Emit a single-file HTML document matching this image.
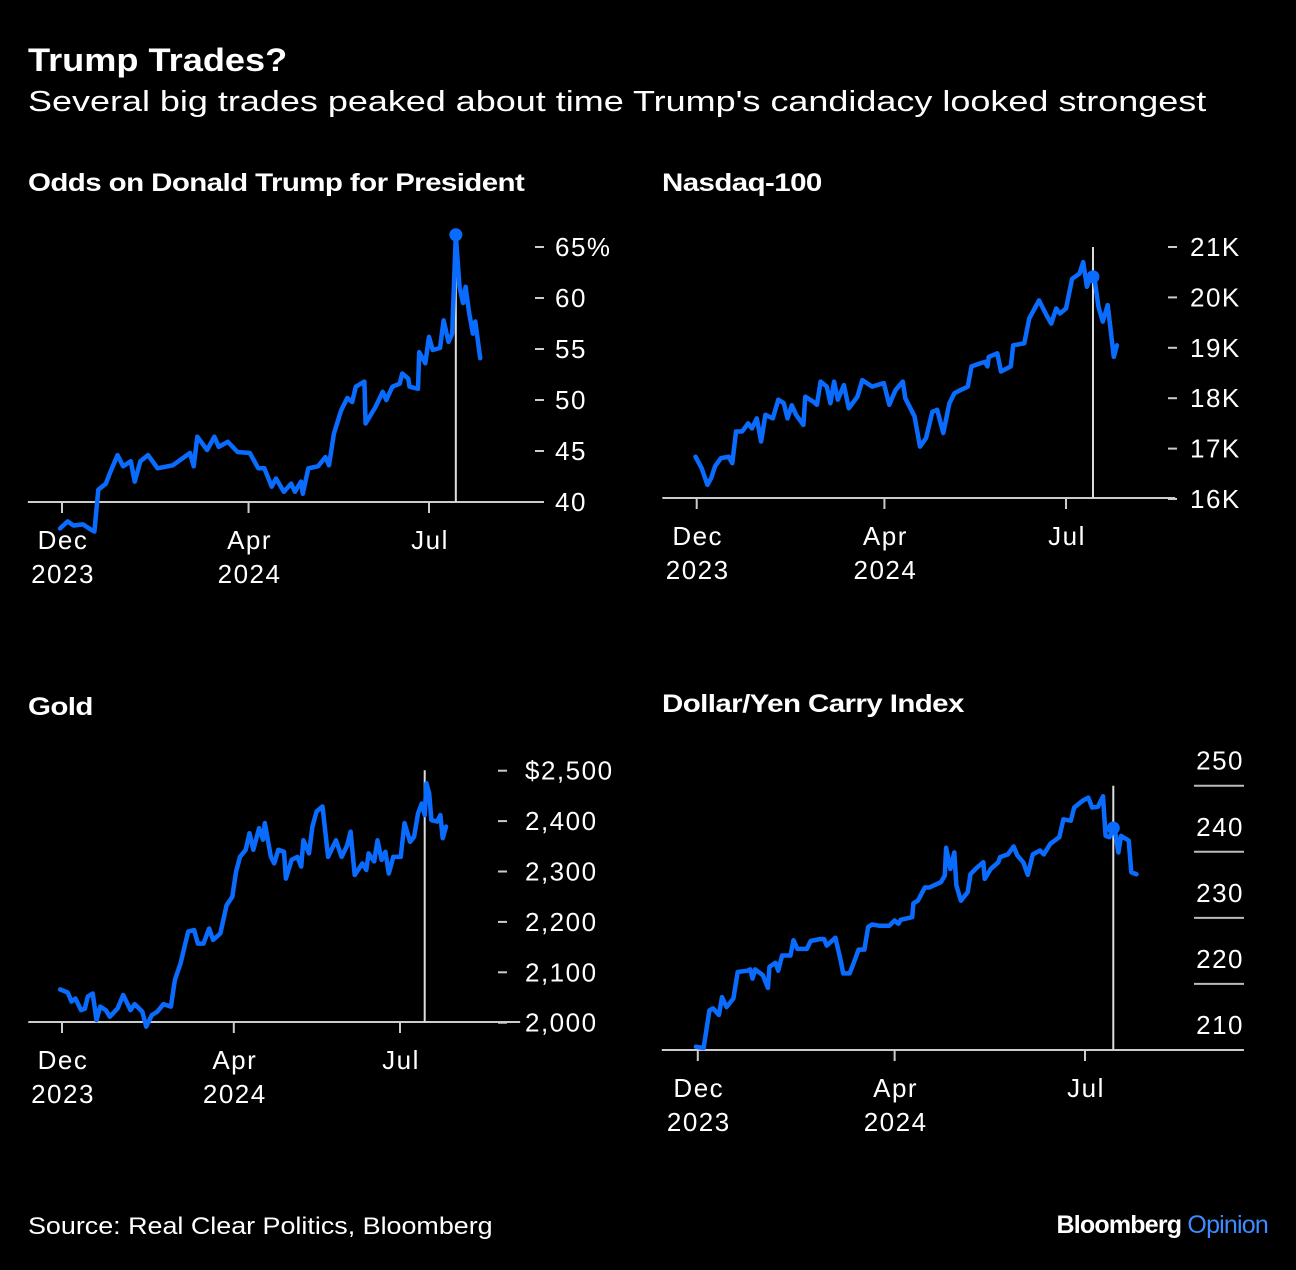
<!DOCTYPE html>
<html><head><meta charset="utf-8">
<style>
html,body{margin:0;padding:0;background:#000;}
body{width:1296px;height:1270px;overflow:hidden;font-family:"Liberation Sans",sans-serif;color:#fff;position:relative;}
.t{position:absolute;white-space:nowrap;transform-origin:left top;}
svg{position:absolute;left:0;top:0;}
svg text{font-family:"Liberation Sans",sans-serif;fill:#fff;letter-spacing:1.5px;}
</style></head>
<body>
<div class="t" style="left:28px;top:42px;font-size:32px;font-weight:bold;transform:scaleX(1.13);">Trump Trades?</div>
<div class="t" style="left:28px;top:86px;font-size:29px;transform:scaleX(1.24);">Several big trades peaked about time Trump's candidacy looked strongest</div>
<div class="t" style="left:28px;top:169px;font-size:25px;font-weight:bold;letter-spacing:-0.5px;transform:scaleX(1.18);">Odds on Donald Trump for President</div>
<div class="t" style="left:662px;top:169px;font-size:25px;font-weight:bold;letter-spacing:-0.5px;transform:scaleX(1.18);">Nasdaq-100</div>
<div class="t" style="left:28px;top:693px;font-size:25px;font-weight:bold;letter-spacing:-0.5px;transform:scaleX(1.18);">Gold</div>
<div class="t" style="left:662px;top:690px;font-size:25px;font-weight:bold;letter-spacing:-0.5px;transform:scaleX(1.18);">Dollar/Yen Carry Index</div>
<div class="t" style="left:28px;top:1213px;font-size:24px;transform:scaleX(1.12);">Source: Real Clear Politics, Bloomberg</div>
<div class="t" style="right:28px;top:1211px;font-size:25px;font-weight:bold;letter-spacing:-0.8px;">Bloomberg <span style="color:#3d8bff;font-weight:normal;">Opinion</span></div>
<svg id="chart" width="1296" height="1270"></svg>
<script>
// x values are weeks from Dec 1, 2023
const tickWeeks = [0, 15.3, 30.1];
const tickMonths = ["Dec", "Apr", "Jul"];
const tickYears = ["2023", "2024", ""];
const markerWeek = 32.3;

const oddsWeeks = [-0.16,0.47,0.94,1.72,2.35,2.66,2.98,3.6,3.92,4.55,5.02,5.64,5.96,6.43,7.05,7.84,9.09,10.5,10.8,11.1,11.9,12.5,12.85,13.6,14.4,15.4,16.1,16.6,17.2,17.55,18.2,18.8,19.1,19.6,19.75,20.2,21.0,21.6,21.9,22.3,22.9,23.4,23.8,24.1,24.8,24.9,25.7,26.3,26.6,27.1,27.7,27.9,28.4,28.5,29.2,29.3,29.8,30.1,30.4,31.0,31.3,31.7,32.0,32.3,32.6,32.9,33.1,33.4,33.7,33.9,34.3];
const oddsValues = [37.4,38.1,37.7,37.8,37.3,37.1,41.2,41.8,42.8,44.6,43.5,44.0,42.0,44.0,44.6,43.3,43.6,44.8,43.5,46.4,45.1,46.4,45.4,45.9,44.9,44.8,43.3,43.3,41.5,42.3,41.0,41.8,41.0,42.0,40.8,43.3,43.5,44.4,43.6,46.7,49.0,50.2,49.8,51.3,51.8,47.7,49.3,50.8,50.0,51.3,51.6,52.6,52.1,51.3,51.1,54.7,53.6,56.2,54.9,55.1,57.8,55.7,56.5,66.2,61.1,59.5,61.1,58.5,56.5,57.7,54.1];
const oddsTicks = [40,45,50,55,60,65];
const oddsTickLabels = ["40","45","50","55","60","65%"];

const ndxWeeks = [-0.1,0.41,0.875,1.19,1.5,1.97,2.6,2.9,3.2,3.7,4.2,4.5,4.9,5.25,5.6,6.2,6.65,7.1,7.4,7.75,8.1,8.7,8.85,9.5,9.8,10.1,10.6,10.9,11.2,11.5,12.0,12.4,13.1,13.5,14.3,15.25,15.7,16.2,16.8,17.0,17.75,18.2,18.7,19.2,19.6,20.1,20.6,21.0,21.5,22.1,22.4,23.1,23.5,23.7,23.8,24.5,24.8,25.6,25.8,26.7,27.1,27.9,28.5,28.9,29.3,29.6,30.1,30.6,31.2,31.5,31.8,32.1,32.4,32.75,33.1,33.5,34.0,34.25];
const ndxValues = [16.84,16.61,16.28,16.42,16.65,16.81,16.84,16.71,17.34,17.34,17.5,17.4,17.6,17.14,17.67,17.6,17.97,17.9,17.6,17.86,17.67,17.47,18.03,17.93,17.87,18.33,18.23,17.9,18.33,17.97,18.26,17.8,18.03,18.36,18.23,18.3,17.87,18.16,18.33,18.0,17.64,17.04,17.21,17.73,17.77,17.31,17.9,18.1,18.16,18.23,18.63,18.69,18.72,18.63,18.82,18.89,18.53,18.63,19.05,19.09,19.58,19.94,19.65,19.48,19.78,19.68,19.78,20.37,20.47,20.7,20.21,20.41,20.41,19.81,19.52,19.85,18.82,19.05];
const ndxTicks = [16,17,18,19,20,21];
const ndxTickLabels = ["16K","17K","18K","19K","20K","21K"];

const goldWeeks = [-0.17,0.51,0.85,1.19,1.7,2.04,2.3,2.73,3.07,3.4,3.9,4.26,4.94,5.45,6.1,6.47,7.15,7.5,8.0,8.5,9.03,9.7,10.05,10.56,11.24,11.76,12.1,12.6,13.1,13.46,14.1,14.66,15.17,15.5,15.85,16.36,16.7,17.04,17.55,17.9,18.06,18.6,18.9,19.26,19.77,19.94,20.45,20.96,21.3,21.5,22.0,22.3,22.67,23.2,23.7,24.4,24.9,25.4,25.7,26.07,26.75,27.1,27.3,27.8,28.1,28.46,28.8,29.1,29.5,30.16,30.5,31.0,31.36,31.7,32.03,32.3,32.45,32.7,32.9,33.4,33.7,33.9,34.2];
const goldValues = [2066,2060,2042,2048,2025,2028,2052,2058,2005,2032,2025,2012,2028,2055,2025,2037,2022,1992,2015,2022,2037,2032,2085,2118,2181,2184,2157,2157,2187,2164,2177,2233,2250,2300,2329,2343,2376,2343,2386,2363,2396,2329,2316,2343,2339,2286,2323,2329,2310,2362,2336,2389,2419,2429,2329,2362,2329,2352,2379,2293,2316,2303,2336,2320,2362,2323,2339,2296,2329,2329,2396,2359,2369,2415,2435,2412,2475,2455,2402,2399,2412,2366,2389];
const goldTicks = [2000,2100,2200,2300,2400,2500];
const goldTickLabels = ["2,000","2,100","2,200","2,300","2,400","$2,500"];

const carryWeeks = [-0.15,0.45,0.9,1.19,1.64,1.88,2.23,2.77,3.1,3.87,4.08,4.25,4.46,5.06,5.45,5.57,6.04,6.25,6.55,7.2,7.44,7.74,8.48,8.78,9.52,9.82,10.03,10.7,11.1,11.3,11.8,12.05,12.5,12.95,13.24,13.54,14.14,14.88,15.3,15.6,15.77,16.67,16.76,17.11,17.65,18.0,18.9,19.2,19.3,19.64,19.94,20.1,20.45,20.98,21.2,21.7,22.2,22.3,22.77,23.36,23.5,24.1,24.55,24.85,25.3,25.65,26.04,26.6,26.9,27.4,28.1,28.42,29.0,29.26,29.9,30.36,30.65,31.1,31.5,31.7,32.0,32.4,32.7,32.9,33.5,33.7,34.1];
const carryValues = [210.5,210.3,216.0,216.3,215.3,218.0,216.5,217.8,221.8,222.0,222.2,220.8,222.2,221.3,219.4,222.6,223.2,222.0,224.3,224.3,226.6,225.3,225.3,226.5,226.8,226.8,225.8,227.0,223.6,221.6,221.6,222.8,225.2,225.2,228.6,229.0,228.8,228.8,229.6,229.1,229.7,230.1,232.2,232.6,234.6,234.6,235.4,236.4,240.6,237.4,239.9,234.9,232.6,233.9,236.6,237.6,238.4,235.9,237.4,238.4,239.2,239.6,240.8,239.4,238.4,236.5,239.6,240.2,239.6,241.2,242.2,244.9,244.7,246.7,247.7,248.2,246.7,246.8,248.4,242.4,242.2,243.6,239.9,242.4,241.7,236.9,236.6];
const carryTicks = [210,220,230,240,250];
const carryTickLabels = ["210","220","230","240","250"];

const NS = "http://www.w3.org/2000/svg";
const svg = document.getElementById("chart");
function mk(tag, attrs){ const e=document.createElementNS(NS,tag); for(const k in attrs) e.setAttribute(k,attrs[k]); svg.appendChild(e); return e; }

function drawPanel(cfg, weeks, values, ticks, tickLabels){
  const xs = w => cfg.x0 + (w - tickWeeks[0]) * (cfg.x1 - cfg.x0) / (tickWeeks[2] - tickWeeks[0]);
  const ys = v => cfg.yBot + (v - cfg.vMin) * (cfg.yTop - cfg.yBot) / (cfg.vMax - cfg.vMin);
  ticks.forEach((t,i)=>{
    const y = ys(t);
    if(cfg.grid){
      const gl = mk("line",{x1:cfg.gx0,x2:cfg.gx1,y1:y,y2:y,stroke:"#bbb","stroke-width":2});
      
      
      const tx = mk("text",{x:cfg.gx1,y:y-16,"font-size":26,"text-anchor":"end"});
      tx.textContent = tickLabels[i];
      
      
    } else {
      const d = mk("line",{x1:cfg.dash,x2:cfg.dash+9,y1:y,y2:y,stroke:"#ccc","stroke-width":2});
      
      
      const tx = mk("text",{x:cfg.lab,y:y+9,"font-size":26});
      tx.textContent = tickLabels[i];
      
      
    }
  });
  const ax = mk("line",{x1:xs(cfg.wMin),x2:xs(cfg.wMax),y1:cfg.axisY,y2:cfg.axisY,stroke:"#ccc","stroke-width":2});
  
  
  tickWeeks.forEach((w,i)=>{
    const x = xs(w);
    const tk = mk("line",{x1:x,x2:x,y1:cfg.axisY,y2:cfg.axisY+11,stroke:"#ccc","stroke-width":2});
    
    
    const m = mk("text",{x:x+1,y:cfg.axisY+47,"font-size":26,"text-anchor":"middle"});
    m.textContent = tickMonths[i];
    
    
    if(tickYears[i]){
      const yr = mk("text",{x:x+1,y:cfg.axisY+81,"font-size":26,"text-anchor":"middle"});
      yr.textContent = tickYears[i];
      
      
    }
  });
  const mx = xs(markerWeek);
  const ml = mk("line",{x1:mx,x2:mx,y1:ys(cfg.markTop),y2:cfg.axisY,stroke:"#ddd","stroke-width":2});
  
  
  const pts = weeks.map((w,i)=>xs(w).toFixed(1)+","+ys(values[i]).toFixed(1)).join(" ");
  const pl = mk("polyline",{points:pts,fill:"none",stroke:"#0a6cff","stroke-width":4.5,"stroke-linejoin":"round","stroke-linecap":"round"});
  
  
  if(cfg.dot){
    let bi=0; weeks.forEach((w,i)=>{ if(Math.abs(w-markerWeek)<Math.abs(weeks[bi]-markerWeek)) bi=i; });
    const c = mk("circle",{cx:mx,cy:ys(values[bi]),r:6.5,fill:"#0a6cff"});
    
    
  }
}

drawPanel({name:"odds",x0:62,x1:429,yBot:502,yTop:247,vMin:40,vMax:65,axisY:502,wMin:-2.8,wMax:39.2,dash:535,lab:555,markTop:66.2,dot:true}, oddsWeeks, oddsValues, oddsTicks, oddsTickLabels);
drawPanel({name:"nasdaq",x0:696.7,x1:1066,yBot:499,yTop:247,vMin:16,vMax:21,axisY:498,wMin:-2.8,wMax:39,dash:1168,lab:1190,markTop:21,dot:true}, ndxWeeks, ndxValues, ndxTicks, ndxTickLabels);
drawPanel({name:"gold",x0:62,x1:400,yBot:1022.7,yTop:770.7,vMin:2000,vMax:2500,axisY:1022,wMin:-3,wMax:40.8,dash:498,lab:525,markTop:2501,dot:false}, goldWeeks, goldValues, goldTicks, goldTickLabels);
drawPanel({name:"carry",x0:697.8,x1:1085,yBot:1050,yTop:785.7,vMin:210,vMax:250,axisY:1050,wMin:-2.8,wMax:42.4,grid:true,gx0:1194,gx1:1244,markTop:250,dot:true}, carryWeeks, carryValues, carryTicks, carryTickLabels);
</script>
</body></html>
